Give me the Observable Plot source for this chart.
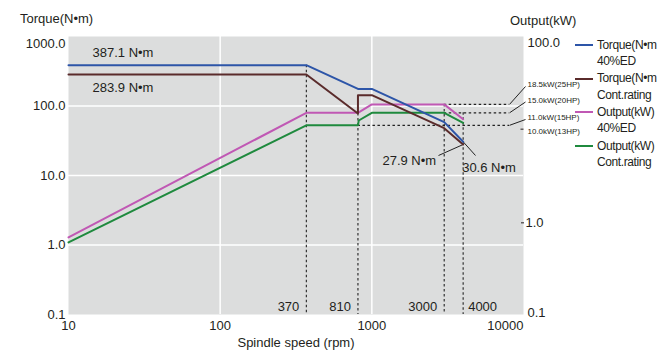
<!DOCTYPE html>
<html><head><meta charset="utf-8">
<script src="https://cdn.jsdelivr.net/npm/d3@7"></script>
<script src="https://cdn.jsdelivr.net/npm/@observablehq/plot@0.6"></script>
<style>
body{margin:0;background:#fff;font-family:"Liberation Sans",Arial,sans-serif;}
#wrap{position:relative;width:658px;height:351px;overflow:hidden;}
.t{position:absolute;font-size:13px;color:#231f20;white-space:nowrap;line-height:13px;}
.lg{position:absolute;font-size:12px;color:#231f20;white-space:nowrap;line-height:16.5px;letter-spacing:-0.4px;}
.sw{position:absolute;width:18px;height:2px;}
</style></head><body><div id="wrap"></div>
<script>
// ---- data ----
const rpmTorque40 = [10, 370, 810, 1000, 3000, 4000];
const torque40 = [387.1, 387.1, 176, 176, 58.6, 30.6];
const rpmTorqueCont = [10, 370, 810, 810, 1000, 3000, 4000];
const torqueCont = [283.9, 283.9, 78, 143, 143, 48, 27.9];
const rpmOutput40 = [10, 370, 810, 1000, 3000, 4000];
const output40 = [0.68, 15, 15, 18.5, 18.5, 12.8];
const rpmOutputCont = [10, 370, 810, 820, 1000, 3000, 4000];
const outputCont = [0.60, 11, 11, 12.4, 15, 15, 11.7];
const speedMarks = [370, 810, 3000, 4000];
const kwLevels = [18.5, 15, 11];
const kwLevelStart = [3000, 3000, 810];
const kwLabels = ["18.5kW(25HP)", "15.0kW(20HP)", "11.0kW(15HP)"];
const kwTickLevel = 10, kwTickLabel = "10.0kW(13HP)";
const torqueTicks = [1000, 100, 10, 1, 0.1];
const outputTicks = [100, 1, 0.1];
const xTicks = [10, 100, 1000, 10000];
const series = [
  {name: "Torque(N•m\n40%ED", color: "#2d55a8"},
  {name: "Torque(N•m\nCont.rating", color: "#5a2b2b"},
  {name: "Output(kW)\n40%ED", color: "#c058b4"},
  {name: "Output(kW)\nCont.rating", color: "#1f8a3e"}
];

// output (kW, 0.1..100) shares the vertical extent of torque (0.1..1000)
const kwToT = kw => Math.pow(10, (Math.log10(kw) + 1) * 4 / 3 - 1);
const tToKw = t => Math.pow(10, (Math.log10(t) + 1) * 3 / 4 - 1);

const X0 = 68, X1 = 523, Y0 = 314, Y1 = 36;
const xs = d3.scaleLog([10, 10000], [X0, X1]);
const ys = d3.scaleLog([0.1, 1000], [Y0, Y1]);
const ink = "#231f20";
const font = "Liberation Sans, Arial, sans-serif";

const pts = (xa, ya, f = d => d) => xa.map((x, i) => ({x, y: f(ya[i])}));
const blue = pts(rpmTorque40, torque40);
const brown = pts(rpmTorqueCont, torqueCont);
const pink = pts(rpmOutput40, output40, kwToT);
const green = pts(rpmOutputCont, outputCont, kwToT);

const guideTop = [torque40[1], torqueCont[2], kwToT(18.5), kwToT(15)];
const guides = speedMarks.map((s, i) => ({x: s, top: guideTop[i]}));
const levels = kwLevels.map((k, i) => ({k, y: kwToT(k), x1: kwLevelStart[i], label: kwLabels[i]}));
const labelCenters = [84, 99.5, 117];
const xDashEnd = xs.invert(509), xLeadEnd = xs.invert(525);
const leaders = levels.map((l, i) => ({x1: xDashEnd, y1: l.y, x2: xLeadEnd, y2: ys.invert(labelCenters[i] + 2)}));
const endT40 = torque40[torque40.length - 1], endTC = torqueCont[torqueCont.length - 1];
const torqueLeaders = [
  {x1: 4000, y1: endTC, x2: xs.invert(438), y2: ys.invert(155)},
  {x1: 4000, y1: endT40, x2: xs.invert(475), y2: ys.invert(155)}
];
const tenKw = kwToT(kwTickLevel);

const marks = [
  Plot.frame({fill: "#dcdddd", stroke: null}),
  Plot.gridX([100, 1000], {stroke: "white", strokeOpacity: 1, strokeWidth: 1.5}),
  Plot.gridY([100, 10, 1], {stroke: "white", strokeOpacity: 1, strokeWidth: 1.5}),
  Plot.ruleX(guides, {x: "x", y1: "top", y2: 0.1, stroke: "#222", strokeWidth: 1.1, strokeDasharray: "2.5,2.5"}),
  Plot.ruleY(levels, {y: "y", x1: "x1", x2: xDashEnd, stroke: "#222", strokeWidth: 1.1, strokeDasharray: "2.5,2.5"}),
  Plot.link(leaders, {x1: "x1", y1: "y1", x2: "x2", y2: "y2", stroke: "#222", strokeWidth: 1}),
  Plot.link(torqueLeaders, {x1: "x1", y1: "y1", x2: "x2", y2: "y2", stroke: "#222", strokeWidth: 1}),
  Plot.line(green, {x: "x", y: "y", stroke: series[3].color, strokeWidth: 2}),
  Plot.line(pink, {x: "x", y: "y", stroke: series[2].color, strokeWidth: 2}),
  Plot.line(brown, {x: "x", y: "y", stroke: series[1].color, strokeWidth: 2}),
  Plot.line(blue, {x: "x", y: "y", stroke: series[0].color, strokeWidth: 2}),
  Plot.text([torque40[0]], {x: 10, y: d => d, text: d => `${d.toFixed(1)} N•m`, dx: 24, dy: -12, textAnchor: "start", fontSize: 13, fill: ink}),
  Plot.text([torqueCont[0]], {x: 10, y: d => d, text: d => `${d.toFixed(1)} N•m`, dx: 24, dy: 13, textAnchor: "start", fontSize: 13, fill: ink}),
  Plot.text([endTC], {x: 4000, y: d => d, text: d => `${d.toFixed(1)} N•m`, dx: -27, dy: 16, textAnchor: "end", fontSize: 13, fill: ink}),
  Plot.text([endT40], {x: 4000, y: d => d, text: d => `${d.toFixed(1)} N•m`, dx: -1, dy: 26.5, textAnchor: "start", fontSize: 13, fill: ink}),
  Plot.text(speedMarks.slice(0, 3), {x: d => d, y: 0.1, text: d => String(d), dx: -7, dy: -8, textAnchor: "end", fontSize: 13, fill: ink}),
  Plot.text(speedMarks.slice(3), {x: d => d, y: 0.1, text: d => String(d), dx: 5, dy: -8, textAnchor: "start", fontSize: 13, fill: ink}),
  ...levels.map((l, i) => Plot.text([l], {x: 10000, y: "y", text: "label", dx: 4, dy: labelCenters[i] - ys(l.y), textAnchor: "start", fontSize: 8, fill: ink, style: "letter-spacing:-0.5px"})),
  // 10 kW tick + label
  Plot.link([tenKw], {x1: xs.invert(520), x2: 10000, y1: d => d, y2: d => d, stroke: ink, strokeWidth: 1}),
  Plot.text([tenKw], {x: 10000, y: d => d, text: () => kwTickLabel, dx: 4, dy: 2, textAnchor: "start", fontSize: 8, fill: ink, style: "letter-spacing:-0.5px"}),
  // left axis
  Plot.axisY({ticks: torqueTicks.slice(0, 1), anchor: "left", tickSize: 0, tickPadding: 3, dy: 7, tickFormat: d => d.toFixed(1), fontSize: 13, color: ink, label: null}),
  Plot.axisY({ticks: torqueTicks.slice(1), anchor: "left", tickSize: 0, tickPadding: 3, tickFormat: d => d.toFixed(1), fontSize: 13, color: ink, label: null}),
  // right axis (kW)
  Plot.axisY({ticks: [kwToT(outputTicks[0])], anchor: "right", tickSize: 0, tickPadding: 4, dy: 6, tickFormat: t => tToKw(t).toFixed(1), fontSize: 13, color: ink, label: null}),
  Plot.axisY({ticks: [kwToT(outputTicks[1])], anchor: "right", tickSize: 3, tickPadding: 2, dx: -3, dy: 1, tickFormat: t => tToKw(t).toFixed(1), fontSize: 13, color: ink, label: null}),
  Plot.axisY({ticks: [kwToT(outputTicks[2])], anchor: "right", tickSize: 0, tickPadding: 4, dy: -2, tickFormat: t => tToKw(t).toFixed(1), fontSize: 13, color: ink, label: null}),
  // x axis
  Plot.axisX({ticks: xTicks.slice(0, 3), anchor: "bottom", tickSize: 0, tickPadding: 6, tickFormat: d => String(d), fontSize: 13, color: ink, label: null}),
  Plot.axisX({ticks: xTicks.slice(3), anchor: "bottom", tickSize: 0, tickPadding: 6, textAnchor: "end", tickFormat: d => String(d), fontSize: 13, color: ink, label: null})
];

const chart = Plot.plot({
  width: 658, height: 351,
  marginLeft: X0, marginRight: 658 - X1, marginTop: Y1, marginBottom: 351 - Y0,
  style: {fontFamily: font, background: "transparent", overflow: "visible"},
  x: {type: "log", domain: [10, 10000], range: [X0, X1]},
  y: {type: "log", domain: [0.1, 1000], range: [Y0, Y1]},
  marks
});
const wrap = document.getElementById("wrap");
wrap.appendChild(chart);
chart.style.position = "absolute"; chart.style.left = "0"; chart.style.top = "0";

function addText(txt, left, top, cls = "t", center = false) {
  const d = document.createElement("div");
  d.className = cls; d.textContent = txt;
  d.style.left = left + "px"; d.style.top = top + "px";
  if (center) d.style.transform = "translateX(-50%)";
  wrap.appendChild(d);
  return d;
}
addText("Torque(N•m)", 20, 12);
addText("Output(kW)", 510, 14);
addText("Spindle speed (rpm)", 296, 336, "t", true);
series.forEach((s, i) => {
  const cy = 45 + i * 33.7;
  const sw = document.createElement("div");
  sw.className = "sw"; sw.style.background = s.color;
  sw.style.left = "575px"; sw.style.top = (cy - 1) + "px";
  wrap.appendChild(sw);
  const lines = s.name.split("\n");
  lines.forEach((ln, j) => addText(ln, 597, cy - 8.5 + j * 16.5, "lg"));
});
</script></body></html>
